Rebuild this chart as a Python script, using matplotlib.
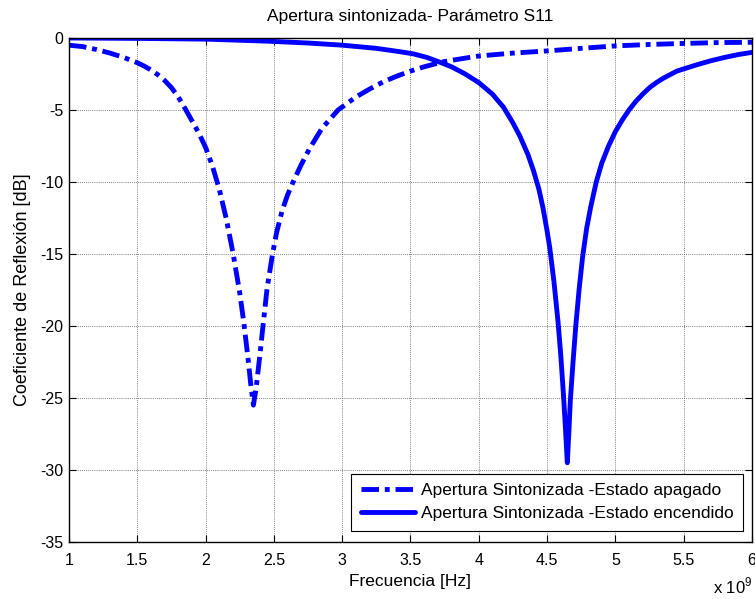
import numpy as np
import matplotlib
matplotlib.use("Agg")
import matplotlib.pyplot as plt

plt.rcParams['font.family'] = ['Liberation Sans', 'DejaVu Sans']
plt.rcParams['mathtext.fontset'] = 'custom'
plt.rcParams['mathtext.rm'] = 'Liberation Sans'

# frequency in GHz (plotted in Hz), S11 in dB
f_off = [1.0, 1.1, 1.2, 1.3, 1.4, 1.5, 1.55, 1.6, 1.65, 1.7, 1.75, 1.8, 1.85,
         1.9, 1.95, 2.0, 2.05, 2.1, 2.15, 2.2, 2.25, 2.28, 2.31, 2.33, 2.35,
         2.37, 2.4, 2.42, 2.45, 2.49, 2.52, 2.56, 2.6, 2.65, 2.7, 2.76, 2.85,
         2.97, 3.1, 3.2, 3.3, 3.4, 3.5, 3.6, 3.74, 3.9, 4.0, 4.25, 4.5, 4.75,
         5.0, 5.25, 5.5, 5.75, 6.0]
s_off = [-0.5, -0.6, -0.8, -1.05, -1.35, -1.72, -1.95, -2.22, -2.55, -2.95,
         -3.45, -4.1, -4.9, -5.75, -6.6, -7.6, -8.9, -10.5, -12.5, -14.9, -17.7,
         -19.8, -22.2, -24.0, -25.5, -24.3, -21.8, -20.0, -17.4, -15.0, -13.5,
         -12.0, -10.9, -9.8, -8.8, -7.7, -6.3, -5.0, -4.1, -3.55, -3.05, -2.65,
         -2.3, -2.0, -1.65, -1.4, -1.25, -1.05, -0.9, -0.72, -0.55, -0.45,
         -0.38, -0.32, -0.3]

f_on = [1.0, 1.5, 2.0, 2.45, 2.75, 3.0, 3.25, 3.42, 3.52, 3.62, 3.72, 3.8, 3.9,
        4.0, 4.1, 4.18, 4.25, 4.3, 4.36, 4.4, 4.44, 4.47, 4.5, 4.52, 4.55, 4.58,
        4.6, 4.62, 4.635, 4.648, 4.66, 4.67, 4.69, 4.71, 4.735, 4.76, 4.79, 4.82,
        4.86, 4.9, 4.95, 5.0, 5.05, 5.1, 5.15, 5.2, 5.25, 5.3, 5.35, 5.4, 5.45,
        5.5, 5.6, 5.7, 5.8, 5.9, 6.0]
s_on = [0.0, -0.03, -0.08, -0.22, -0.35, -0.5, -0.72, -0.95, -1.1, -1.35, -1.7,
        -2.0, -2.5, -3.1, -3.9, -4.8, -5.9, -6.8, -8.1, -9.2, -10.5, -11.8,
        -13.4, -14.6, -16.9, -19.7, -22.0, -24.8, -27.2, -29.5, -27.3, -25.2,
        -22.5, -20.0, -17.4, -15.2, -13.2, -11.7, -10.0, -8.7, -7.5, -6.5, -5.7,
        -5.0, -4.4, -3.9, -3.45, -3.1, -2.8, -2.55, -2.3, -2.15, -1.85, -1.58,
        -1.35, -1.15, -1.0]

labels = ['Apertura Sintonizada -Estado apagado',
          'Apertura Sintonizada -Estado encendido']
xticks = [1, 1.5, 2, 2.5, 3, 3.5, 4, 4.5, 5, 5.5, 6]
yticks = [0, -5, -10, -15, -20, -25, -30, -35]

fig = plt.figure(figsize=(7.55, 5.99), dpi=100)
ax = fig.add_axes([0.0914, 0.0952, 0.9046, 0.8414])

blue = (0, 0, 1)
ax.plot(np.array(f_off) * 1e9, s_off, color=blue, lw=3.5,
        linestyle=(0, (3.6, 1.2, 1.0, 1.2)), dash_capstyle='butt',
        label=labels[0])
ax.plot(np.array(f_on) * 1e9, s_on, color=blue, lw=3.5,
        solid_capstyle='round', solid_joinstyle='round', label=labels[1])

ax.set_xlim(1e9, 6e9)
ax.set_ylim(-35, 0)
ax.set_xticks([t * 1e9 for t in xticks])
ax.set_xticklabels([('%g' % t) for t in xticks])
ax.set_yticks(yticks)
ax.set_yticklabels([str(t) for t in yticks])

ax.grid(True, color='0.35', linestyle=(0, (1, 1.5)), linewidth=0.6)
ax.tick_params(direction='in', length=5, width=0.8, top=True, right=True,
               labelsize=11.5, colors='k')
ax.tick_params(axis='x', pad=8)
ax.tick_params(axis='y', pad=4)
for sp in ax.spines.values():
    sp.set_linewidth(1.0)

ax.set_title('Apertura sintonizada- Parámetro S11', fontsize=12.5, pad=12)
ax.set_xlabel('Frecuencia [Hz]', fontsize=12.5, labelpad=4)
ax.set_ylabel('Coeficiente de Reflexión [dB]', fontsize=13, labelpad=7)
ax.text(1.0, -0.103, r'x 10$^{9}$', transform=ax.transAxes, ha='right',
        va='baseline', fontsize=12)

leg = ax.legend(loc='lower right', bbox_to_anchor=(0.987, 0.022),
                borderaxespad=0, fontsize=12.5, handlelength=3.1,
                handletextpad=0.35, labelspacing=0.45, borderpad=0.55,
                fancybox=False, framealpha=1, edgecolor='k')
leg.get_frame().set_linewidth(0.8)

fig.savefig('out.png', dpi=100)
